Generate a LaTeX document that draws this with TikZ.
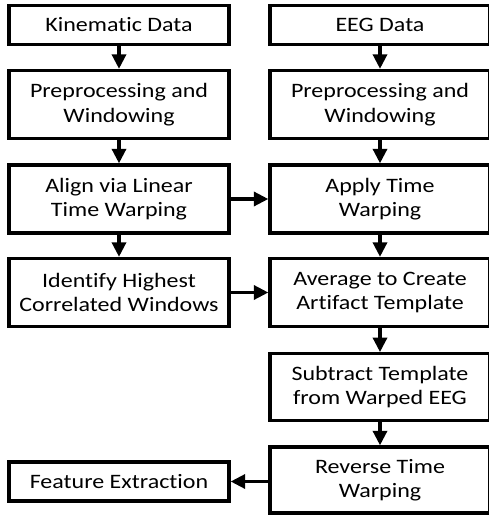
\documentclass[tikz,border=0pt]{standalone}
\usepackage{fontspec}
\setmainfont{Carlito}[FakeStretch=1.17,Ligatures=NoCommon]
\usetikzlibrary{arrows.meta}
\begin{document}
\begin{tikzpicture}[x=1pt,y=-1pt,
  box/.style={draw=black,line width=3.3pt,rectangle,minimum width=220pt,align=center,
    inner sep=0pt,font=\fontsize{20.5}{24.5}\selectfont},
  tall/.style={box,minimum height=68pt},
  short/.style={box,minimum height=39pt},
  arr/.style={line width=3.3pt,-{Triangle[length=14.5pt,width=14pt]}}]
\useasboundingbox (0,0) rectangle (488,516);
\node[short] (kin) at (119,25) {Kinematic Data};
\node[short] (eeg) at (380,25) {EEG Data};
\node[tall] (pl) at (119,104.5) {Preprocessing and\\Windowing};
\node[tall] (pr) at (380,104.5) {Preprocessing and\\Windowing};
\node[tall] (al) at (119,199) {Align via Linear\\Time Warping};
\node[tall] (ap) at (380,199) {Apply Time\\Warping};
\node[tall] (id) at (119,292.5) {Identify Highest\\Correlated Windows};
\node[tall] (av) at (380,292.5) {Average to Create\\Artifact Template};
\node[tall,minimum height=66.5pt] (sub) at (380,387) {Subtract Template\\from Warped EEG};
\node[tall,minimum height=66pt] (rev) at (380,480) {Reverse Time\\Warping};
\node[short] (fe) at (119,481.5) {Feature Extraction};
\draw[arr] (kin) -- (pl);
\draw[arr] (eeg) -- (pr);
\draw[arr] (pl) -- (al);
\draw[arr] (pr) -- (ap);
\draw[arr] (al) -- (id);
\draw[arr] (ap) -- (av);
\draw[arr] (av) -- (sub);
\draw[arr] (sub) -- (rev);
\draw[arr] (al.east) -- (al.east -| ap.west);
\draw[arr] (id.east) -- (id.east -| av.west);
\draw[arr] (rev.west |- fe.east) -- (fe.east);
\end{tikzpicture}
\end{document}
